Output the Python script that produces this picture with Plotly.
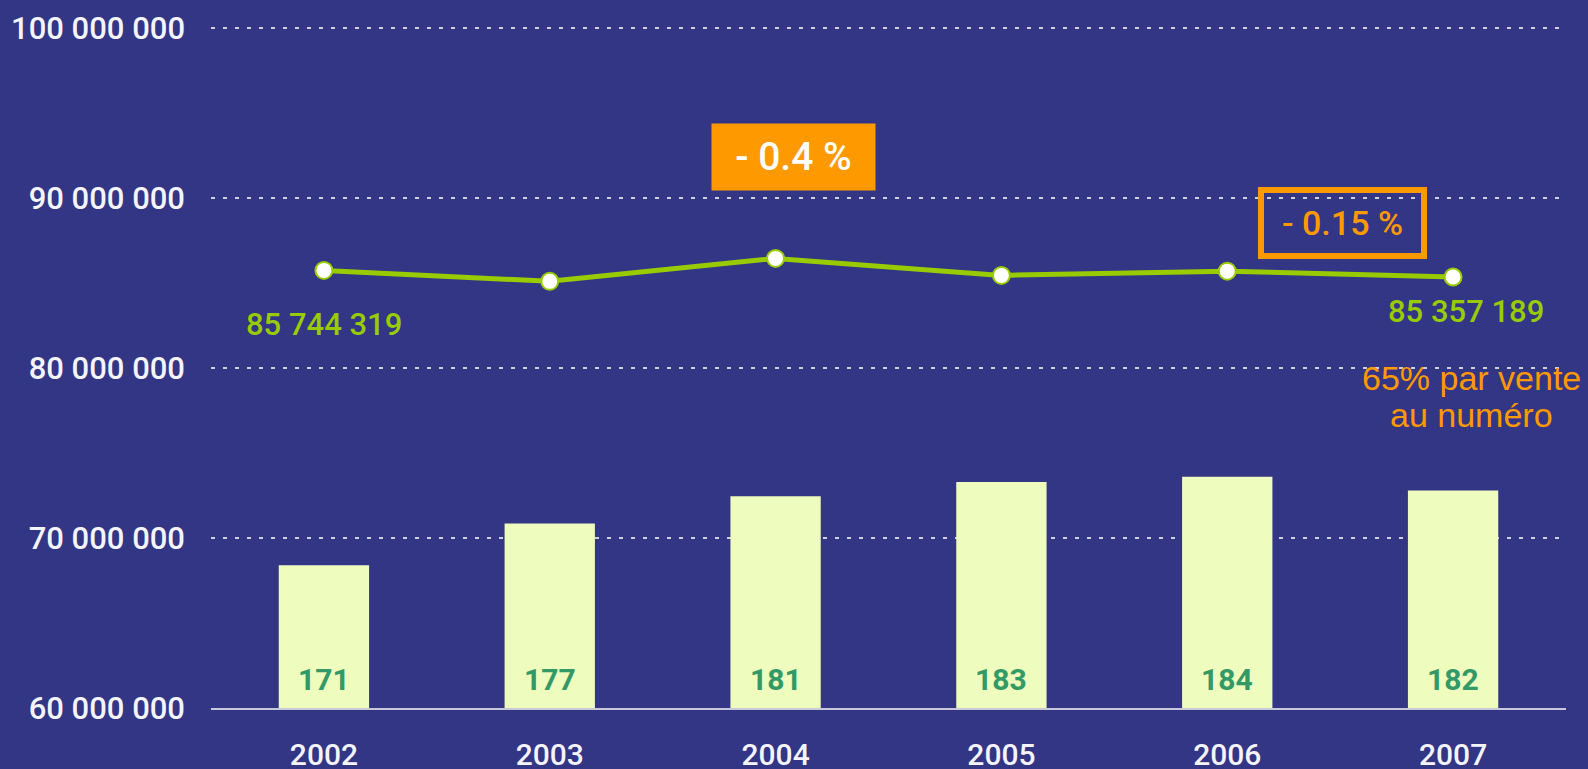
import plotly.graph_objects as go

years = [2002, 2003, 2004, 2005, 2006, 2007]
bar_values = [68.4e6, 70.85e6, 72.45e6, 73.3e6, 73.6e6, 72.8e6]
bar_labels = ["171", "177", "181", "183", "184", "182"]
line_values = [85744319, 85.1e6, 86.45e6, 85.45e6, 85.7e6, 85357189]
tick_vals = [60e6, 70e6, 80e6, 90e6, 100e6]
tick_text = ["60 000 000", "70 000 000", "80 000 000", "90 000 000", "100 000 000"]

BG = "#333585"
GREEN = "#99cc00"
ORANGE = "#ff9900"
Y_MIN = tick_vals[0]

fig = go.Figure()
fig.add_trace(go.Bar(
    x=years, y=bar_values, width=0.4,
    marker=dict(color="#eefcbd", line=dict(width=0)),
    hoverinfo="skip",
))
fig.add_trace(go.Scatter(
    x=years, y=line_values, mode="lines+markers",
    line=dict(color=GREEN, width=5),
    marker=dict(size=17, color="white", line=dict(color=GREEN, width=2)),
    hoverinfo="skip",
))

ann = []
for yr, lab in zip(years, bar_labels):
    ann.append(dict(x=yr, y=Y_MIN, text=lab, showarrow=False, yanchor="middle",
                    yshift=29,
                    font=dict(family="Roboto", size=30, color="#339966", weight="bold")))
ann.append(dict(x=years[0], y=line_values[0], text="85 744 319", showarrow=False,
                yshift=-54, font=dict(family="Roboto", size=31, color=GREEN, weight=500)))
ann.append(dict(x=years[-1] + 0.055, y=line_values[-1], text="85 357 189", showarrow=False,
                yshift=-35, font=dict(family="Roboto", size=31, color=GREEN, weight=500)))
ann.append(dict(x=2004.08, y=92.41e6, text="- 0.4 %", showarrow=False,
                bgcolor=ORANGE, width=163, height=66, borderpad=0,
                font=dict(family="Roboto", size=39, color="white", weight=500)))
ann.append(dict(x=2006.51, y=88.53e6, text="- 0.15 %", showarrow=False,
                bordercolor=ORANGE, borderwidth=6, width=157, height=60, borderpad=0,
                font=dict(family="Roboto", size=34, color=ORANGE, weight=500)))
ann.append(dict(x=2007.08, y=79.4e6, text="65% par vente", showarrow=False,
                font=dict(family="Liberation Sans", size=34, color=ORANGE)))
ann.append(dict(x=2007.08, y=77.22e6, text="au numéro", showarrow=False,
                font=dict(family="Liberation Sans", size=34, color=ORANGE)))
fig.update_layout(annotations=ann)

fig.update_layout(
    width=1588, height=769,
    margin=dict(l=211, r=22, t=25, b=61),
    paper_bgcolor=BG, plot_bgcolor=BG,
    showlegend=False,
    xaxis=dict(
        range=[2001.5, 2007.5], tickvals=years, ticktext=[str(y) for y in years],
        showgrid=False, zeroline=False, ticks="",
        showline=True, linecolor="#c8c8d8", linewidth=2,
        tickfont=dict(family="Roboto", size=30, color="#f4f4fa", weight=500),
        ticklabelstandoff=19, automargin=False,
    ),
    yaxis=dict(
        range=[60e6, 100.18e6], tickvals=tick_vals, ticktext=tick_text,
        showgrid=True, gridcolor="#d0d0d8", gridwidth=2, griddash="4px,8px",
        zeroline=False, ticks="", showline=False,
        tickfont=dict(family="Roboto", size=31, color="#f4f4fa", weight=500),
        ticklabelstandoff=25, automargin=False,
    ),
)

fig.write_html("out.html", config={"displayModeBar": False},
               post_script="document.body.style.margin='0';document.body.style.overflow='hidden';")
